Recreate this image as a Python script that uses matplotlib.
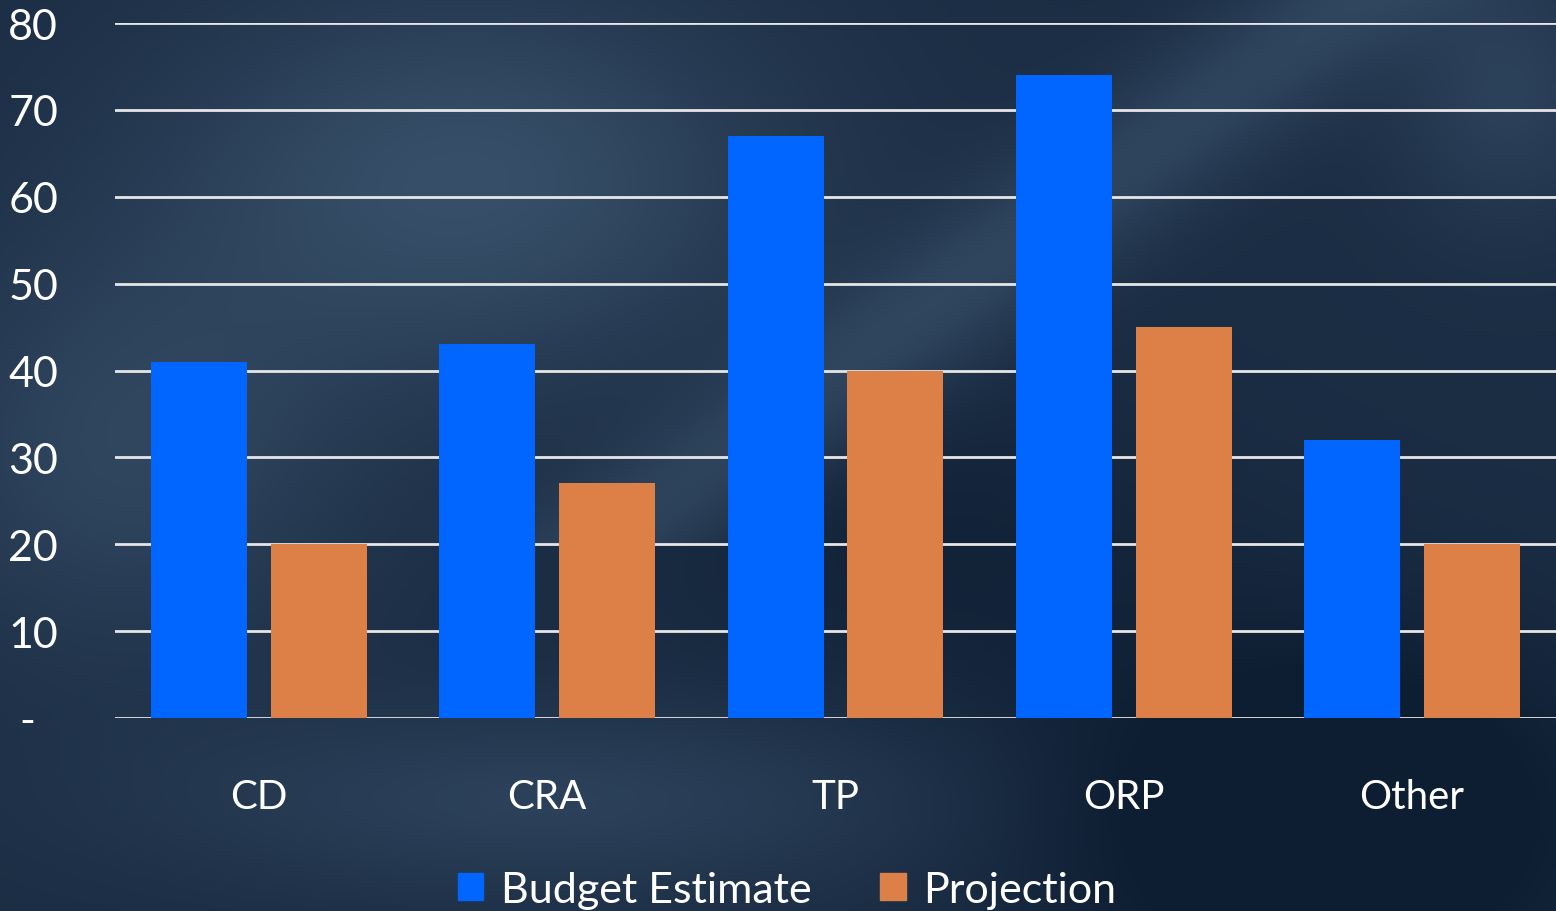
import numpy as np
import matplotlib.pyplot as plt
from matplotlib.patches import Patch

categories = ["CD", "CRA", "TP", "ORP", "Other"]
budget = [41, 43, 67, 74, 32]
projection = [20, 27, 40, 45, 20]
yticks = [0, 10, 20, 30, 40, 50, 60, 70, 80]
ytick_labels = ["-  ", "10", "20", "30", "40", "50", "60", "70", "80"]

plt.rcParams['font.family'] = ['Lato', 'DejaVu Sans']

fig = plt.figure(figsize=(15.56, 9.12), dpi=100)

# dark blue background with soft lighter streaks
bg = fig.add_axes([0, 0, 1, 1])
yy, xx = np.mgrid[0:1:300j, 0:1:500j]
base = np.full_like(xx, 0.25)
base += 0.5 * np.exp(-((xx - 0.3) ** 2 / 0.04 + (yy - 0.2) ** 2 / 0.05))
base += 0.35 * np.exp(-((xx - 0.08) ** 2 / 0.02 + (yy - 0.5) ** 2 / 0.05))
base += 0.35 * np.exp(-(((xx - 0.55) - (0.4 - yy) * 0.8) ** 2) / 0.006) * (yy < 0.6)
base += 0.3 * np.exp(-((xx - 0.35) ** 2 / 0.06 + (yy - 0.88) ** 2 / 0.01))
base += 0.3 * np.exp(-((xx - 0.97) ** 2 / 0.005 + (yy - 0.1) ** 2 / 0.02))
base -= 0.45 * np.exp(-((xx - 0.85) ** 2 / 0.03 + (yy - 0.9) ** 2 / 0.04))
base -= 0.15 * np.exp(-((xx - 0.6) ** 2 / 0.03 + (yy - 0.6) ** 2 / 0.03))
base = np.clip(base, 0, 1)
dark = np.array([0x0d, 0x1d, 0x32]) / 255
light = np.array([0x45, 0x5f, 0x7a]) / 255
img = dark + (light - dark) * base[..., None]
bg.imshow(np.clip(img, 0, 1), aspect='auto', extent=[0, 1, 0, 1], origin='upper')
bg.axis('off')

ax = fig.add_axes([115 / 1556, 1 - 719 / 912, 1 - 115 / 1556, (719 - 24) / 912])
ax.patch.set_alpha(0)

x = np.arange(len(categories))
w = 0.333
ax.bar(x - 0.208, budget, w, color='#0066FF', zorder=3, label='Budget Estimate')
ax.bar(x + 0.208, projection, w, color='#DD8047', zorder=3, label='Projection')

ax.set_xlim(-0.5, len(categories) - 0.5)
ax.set_ylim(0, 80)
ax.set_yticks(yticks)
ax.set_yticklabels(ytick_labels)
ax.set_xticks(x)
ax.set_xticklabels(categories)
ax.grid(axis='y', color='#e6e6e6', linewidth=2, zorder=0)
ax.set_axisbelow(True)
for s in ax.spines.values():
    s.set_visible(False)
ax.tick_params(axis='y', length=0, pad=41, labelsize=31, labelcolor='white')
ax.tick_params(axis='x', length=0, pad=43, labelsize=29, labelcolor='white')

handles = [Patch(color='#0066FF'), Patch(color='#DD8047')]
leg = fig.legend(handles, ['Budget Estimate', 'Projection'], loc='center',
                 bbox_to_anchor=(787 / 1556, 1 - 891 / 912), ncol=2, frameon=False,
                 fontsize=31, handlelength=0.6, handleheight=0.6,
                 handletextpad=0.4, columnspacing=1.6, labelcolor='white')

fig.savefig('out.png', dpi=100)
